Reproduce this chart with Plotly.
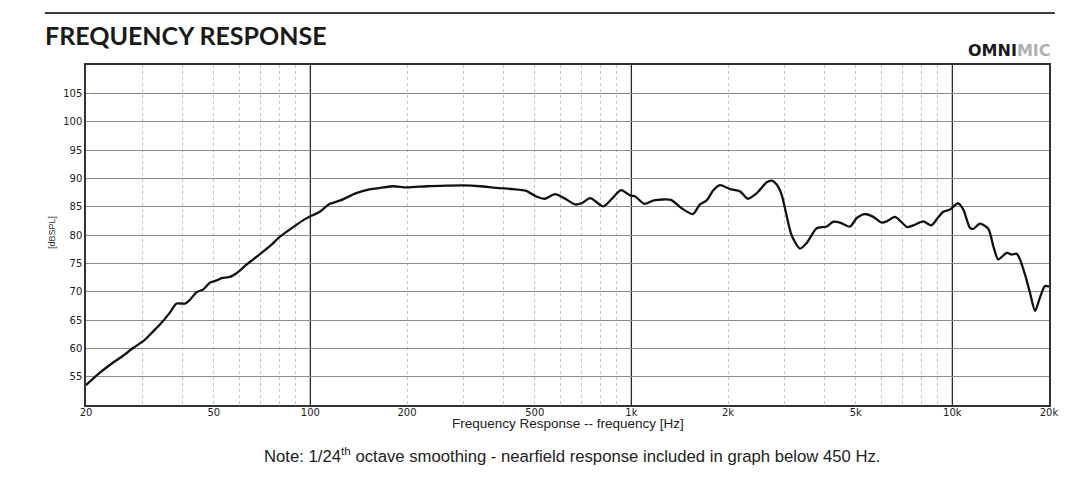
import plotly.graph_objects as go

freq_hz = [
    20, 22.1, 24.3, 26.1, 28.1, 30.2, 32.4, 34.0, 36.5, 38.3, 40.7, 42.2, 44.2,
    46.4, 48.7, 51.1, 52.9, 56.2, 59.0, 63.3, 66.4, 71.4, 76, 80.4, 88.4, 96.3,
    100, 107, 115, 124, 139, 154, 165, 181, 200, 231, 266, 300, 338, 380, 428,
    470, 506, 538, 578, 622, 668, 700, 745, 818, 870, 928, 991, 1028, 1098,
    1176, 1326, 1428, 1555, 1636, 1716, 1800, 1888, 2029, 2180, 2304, 2458,
    2640, 2737, 2836, 2940, 3048, 3158, 3353, 3518, 3778, 4060, 4258, 4466,
    4798, 5036, 5344, 5672, 6024, 6244, 6626, 7238, 7556, 8118, 8600, 9000,
    9370, 9830, 10430, 10816, 11350, 11630, 12190, 12940, 13420, 13900, 14770,
    15300, 15860, 16240, 16840, 17450, 18090, 18750, 19430, 20000,
]
spl_db = [
    53.5, 55.7, 57.5, 58.7, 60.1, 61.3, 63.0, 64.2, 66.3, 67.9, 67.9, 68.6, 69.9,
    70.4, 71.6, 72.0, 72.4, 72.6, 73.3, 74.8, 75.7, 77.1, 78.4, 79.7, 81.4, 82.8,
    83.3, 84.1, 85.5, 86.1, 87.4, 88.1, 88.3, 88.6, 88.4, 88.6, 88.7, 88.75, 88.6,
    88.3, 88.1, 87.8, 86.8, 86.4, 87.2, 86.4, 85.4, 85.6, 86.5, 85.05, 86.4, 87.9,
    87.0, 86.8, 85.5, 86.1, 86.2, 84.8, 83.7, 85.4, 86.1, 87.9, 88.8, 88.1, 87.7,
    86.4, 87.4, 89.3, 89.6, 88.9, 87.1, 83.3, 79.9, 77.6, 78.6, 81.2, 81.5, 82.35,
    82.2, 81.5, 83.0, 83.7, 83.2, 82.2, 82.4, 83.2, 81.4, 81.7, 82.4, 81.7, 83.0,
    84.1, 84.5, 85.6, 84.5, 81.25, 81.1, 82.0, 81.1, 78.0, 75.7, 76.85, 76.55,
    76.7, 75.7, 73.0, 69.8, 66.6, 69.0, 71.0, 70.9,
]

x_tick_vals = [20, 50, 100, 200, 500, 1000, 2000, 5000, 10000, 20000]
x_tick_text = ["20", "50", "100", "200", "500", "1k", "2k", "5k", "10k", "20k"]
decade_lines = [100, 1000, 10000]
minor_lines = [30, 40, 50, 60, 70, 80, 90,
               200, 300, 400, 500, 600, 700, 800, 900,
               2000, 3000, 4000, 5000, 6000, 7000, 8000, 9000]
y_tick_vals = [55, 60, 65, 70, 75, 80, 85, 90, 95, 100, 105]

X_RANGE = [1.30103, 4.30103]  # log10(20) .. log10(20000)
Y_RANGE = [50, 110]
BORDER = "#333333"

fig = go.Figure()

fig.add_trace(
    go.Scatter(
        x=freq_hz,
        y=spl_db,
        mode="lines",
        line=dict(color="#111111", width=2.3, shape="spline", smoothing=0.7),
        showlegend=False,
        hoverinfo="skip",
    )
)

# page body has an 8px margin, so the figure is drawn slightly smaller
fig.update_layout(
    width=1055,
    height=465,
    margin=dict(l=78, r=14, t=57, b=68),
    paper_bgcolor="white",
    plot_bgcolor="white",
    font=dict(family="DejaVu Sans", size=10, color="#222222"),
    xaxis=dict(
        type="log",
        range=X_RANGE,
        automargin=False,
        tickmode="array",
        tickvals=x_tick_vals,
        ticktext=x_tick_text,
        ticks="",
        ticklabelstandoff=-3,
        showgrid=False,
        zeroline=False,
        showline=True,
        linecolor=BORDER,
        linewidth=1.5,
        mirror=True,
        tickfont=dict(family="DejaVu Sans", size=10, color="#222222"),
        minor=dict(
            tickmode="array",
            tickvals=minor_lines,
            showgrid=True,
            gridcolor="#c4c4c4",
            griddash="dot",
            gridwidth=1,
        ),
    ),
    yaxis=dict(
        range=Y_RANGE,
        automargin=False,
        tickmode="array",
        tickvals=y_tick_vals,
        ticks="",
        showgrid=True,
        gridcolor="#8c8c8c",
        gridwidth=1,
        zeroline=False,
        showline=True,
        linecolor=BORDER,
        linewidth=1.5,
        mirror=True,
        tickfont=dict(family="DejaVu Sans", size=10, color="#222222"),
    ),
)

# solid decade gridlines
for f in decade_lines:
    fig.add_vline(x=f, line=dict(color="#2a2a2a", width=1.3), layer="below")

# header rule above the title
fig.add_shape(
    type="line", xref="paper", yref="paper",
    x0=-0.0426, x1=1.006, y0=1.153, y1=1.153,
    line=dict(color="#3a3a3a", width=2),
)

fig.add_annotation(
    text="<b>FREQUENCY RESPONSE</b>",
    xref="paper", yref="paper", x=-0.0445, y=1.089,
    xanchor="left", yanchor="middle", showarrow=False,
    font=dict(family="Lato", size=25, color="#1a1a1a"),
)
fig.add_annotation(
    text="<b>OMNI</b><b><span style='color:#b0b0b0'>MIC</span></b>",
    xref="paper", yref="paper", x=1.004, y=1.044,
    xanchor="right", yanchor="middle", showarrow=False,
    font=dict(family="DejaVu Sans", size=16, color="#1a1a1a"),
)
fig.add_annotation(
    text="[dBSPL]",
    xref="paper", yref="paper", x=-0.0353, y=0.506,
    xanchor="center", yanchor="middle", textangle=-90, showarrow=False,
    font=dict(family="Liberation Sans", size=9, color="#333333"),
)
fig.add_annotation(
    text="Frequency Response -- frequency [Hz]",
    xref="paper", yref="paper", x=0.5, y=-0.053,
    xanchor="center", yanchor="middle", showarrow=False,
    font=dict(family="Liberation Sans", size=13.5, color="#222222"),
)
fig.add_annotation(
    text="Note: 1/24<sup>th</sup> octave smoothing - nearfield response included in graph below 450 Hz.",
    xref="paper", yref="paper", x=0.5047, y=-0.147,
    xanchor="center", yanchor="middle", showarrow=False,
    font=dict(family="Liberation Sans", size=16.7, color="#222222"),
)

fig.write_html("out.html")
